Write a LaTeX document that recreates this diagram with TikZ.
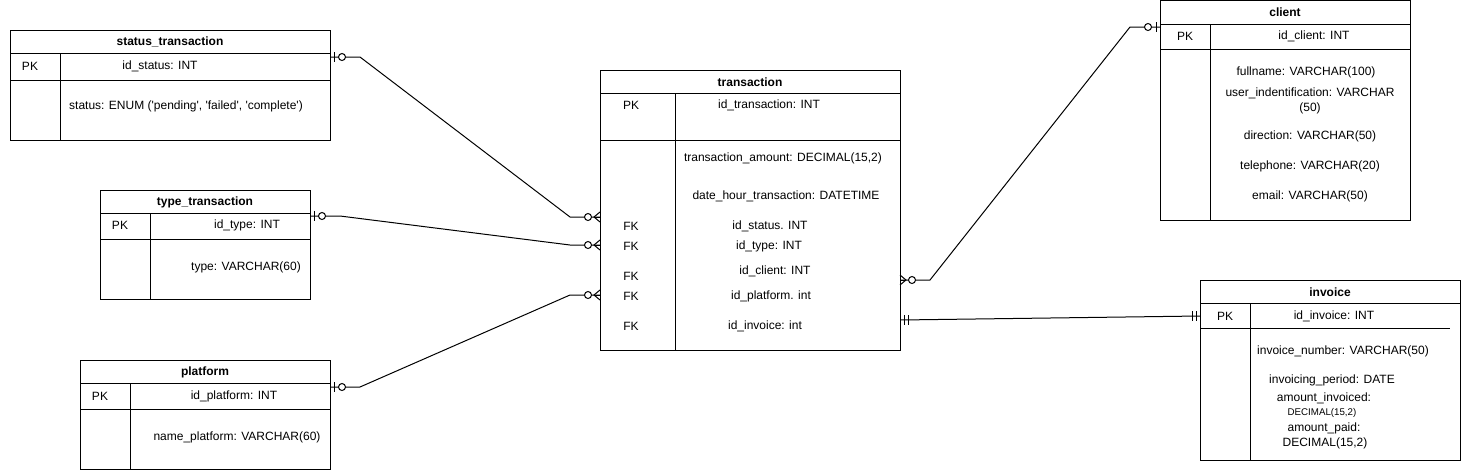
\documentclass[tikz,border=0pt]{standalone}
\usepackage{fontspec}
\setmainfont{Liberation Sans}
\usepackage{tikz}
\tikzset{
  every node/.style={inner sep=0pt, font=\fontsize{9}{11}\selectfont},
  tblname/.style={font=\fontsize{9}{11}\selectfont\bfseries},
  smallfield/.style={font=\fontsize{7.3}{8}\selectfont},
  zeroone/.pic={\draw (4,-5) -- (4,5); \draw[fill=white] (12,0) circle (3.5);},
  zeromany/.pic={\draw (0,-5) -- (6,0) -- (0,5); \draw (0,0) -- (6,0); \draw[fill=white] (12,0) circle (3.5);},
  oneone/.pic={\draw (4,-5) -- (4,5); \draw (8,-5) -- (8,5);}
}

\begin{document}
\begin{tikzpicture}[x=0.75pt, y=-0.75pt, line width=0.75pt]
  \useasboundingbox (0,0) rectangle (1461,472);

  \draw (10,30) rectangle (330,140);
  \draw (10,53) -- (330,53);
  \draw (10,80) -- (330,80);
  \draw (60,53) -- (60,140);
  \node[tblname] (st-name) at (170,42) {status\_transaction};
  \node (st-pk) at (30,66) {PK};
  \node (st-id) at (160,66) {id\_status: INT};
  \node (st-status) at (186,106) {status: ENUM (\textquotesingle pending\textquotesingle, \textquotesingle failed\textquotesingle, \textquotesingle complete\textquotesingle)};

  \draw (100,190) rectangle (310,299);
  \draw (100,213) -- (310,213);
  \draw (100,239) -- (310,239);
  \draw (150,213) -- (150,299);
  \node[tblname] (tt-name) at (205,202) {type\_transaction};
  \node (tt-pk) at (120,225) {PK};
  \node (tt-id) at (247,225) {id\_type: INT};
  \node (tt-type) at (246,267) {type: VARCHAR(60)};

  \draw (80,360) rectangle (330,469);
  \draw (80,383) -- (330,383);
  \draw (80,409) -- (330,409);
  \draw (130,383) -- (130,469);
  \node[tblname] (pf-name) at (205,372) {platform};
  \node (pf-pk) at (100,396) {PK};
  \node (pf-id) at (234,396) {id\_platform: INT};
  \node (pf-pname) at (237,437) {name\_platform: VARCHAR(60)};

  \draw (600,70) rectangle (900,350);
  \draw (600,93) -- (900,93);
  \draw (600,140) -- (900,140);
  \draw (675,93) -- (675,350);
  \node[tblname] (tr-name) at (750,82) {transaction};
  \node (tr-pk) at (631,105) {PK};
  \node (tr-id) at (769,105) {id\_transaction: INT};
  \node (tr-amount) at (783,158) {transaction\_amount: DECIMAL(15,2)};
  \node (tr-date) at (786,196) {date\_hour\_transaction: DATETIME};
  \node (tr-fk1) at (631,226) {FK};
  \node (tr-fk2) at (631,246) {FK};
  \node (tr-fk3) at (631,276) {FK};
  \node (tr-fk4) at (631,296) {FK};
  \node (tr-fk5) at (631,326) {FK};
  \node (tr-status) at (770,226) {id\_status. INT};
  \node (tr-type) at (769,246) {id\_type: INT};
  \node (tr-client) at (775,271) {id\_client: INT};
  \node (tr-platform) at (771,296) {id\_platform. int};
  \node (tr-invoice) at (765,326) {id\_invoice: int};

  \draw (1160,0.5) rectangle (1410,220);
  \draw (1160,24) -- (1410,24);
  \draw (1160,49) -- (1410,49);
  \draw (1210,24) -- (1210,220);
  \node[tblname] (cl-name) at (1285,12) {client};
  \node (cl-pk) at (1185,36) {PK};
  \node (cl-id) at (1314,36) {id\_client: INT};
  \node (cl-fullname) at (1306,72) {fullname: VARCHAR(100)};
  \node[align=center] (cl-userid) at (1310,101) {user\_indentification: VARCHAR\\(50)};
  \node (cl-direction) at (1310,136) {direction: VARCHAR(50)};
  \node (cl-phone) at (1310,166) {telephone: VARCHAR(20)};
  \node (cl-email) at (1310,196) {email: VARCHAR(50)};

  \draw (1200,280) rectangle (1460,460);
  \draw (1200,303) -- (1460,303);
  \draw (1200,328) -- (1450,328);
  \draw (1250,303) -- (1250,460);
  \node[tblname] (iv-name) at (1330,292) {invoice};
  \node (iv-pk) at (1225,316) {PK};
  \node (iv-id) at (1334,316) {id\_invoice: INT};
  \node (iv-number) at (1343,351) {invoice\_number: VARCHAR(50)};
  \node (iv-period) at (1332,380) {invoicing\_period: DATE};
  \node (iv-invoiced) at (1324,398) {amount\_invoiced:};
  \node[smallfield] (iv-invoiceddec) at (1322,413) {DECIMAL(15,2)};
  \node (iv-paid) at (1324,428) {amount\_paid:};
  \node (iv-paiddec) at (1325,443) {DECIMAL(15,2)};

  \coordinate (st-out) at (330,57);
  \coordinate (tt-out) at (310,216);
  \coordinate (pf-out) at (330,387);
  \coordinate (tr-in1) at (600,217);
  \coordinate (tr-in2) at (600,245);
  \coordinate (tr-in3) at (600,295);
  \coordinate (tr-out1) at (900,280);
  \coordinate (tr-out2) at (900,320);
  \coordinate (cl-in) at (1160,27);
  \coordinate (iv-in) at (1200,316);

  \draw (st-out) -- (360,57) -- (570,217) -- (tr-in1);
  \draw (tt-out) -- (340,216) -- (570,245) -- (tr-in2);
  \draw (pf-out) -- (360,387) -- (570,295) -- (tr-in3);
  \draw (tr-out1) -- (930,280) -- (1130,27) -- (cl-in);
  \draw (tr-out2) -- (iv-in);

  \pic at (st-out) {zeroone};
  \pic at (tt-out) {zeroone};
  \pic at (pf-out) {zeroone};
  \pic[xscale=-1] at (tr-in1) {zeromany};
  \pic[xscale=-1] at (tr-in2) {zeromany};
  \pic[xscale=-1] at (tr-in3) {zeromany};
  \pic at (tr-out1) {zeromany};
  \pic[xscale=-1] at (cl-in) {zeroone};
  \pic at (tr-out2) {oneone};
  \pic[xscale=-1] at (iv-in) {oneone};
\end{tikzpicture}
\end{document}
